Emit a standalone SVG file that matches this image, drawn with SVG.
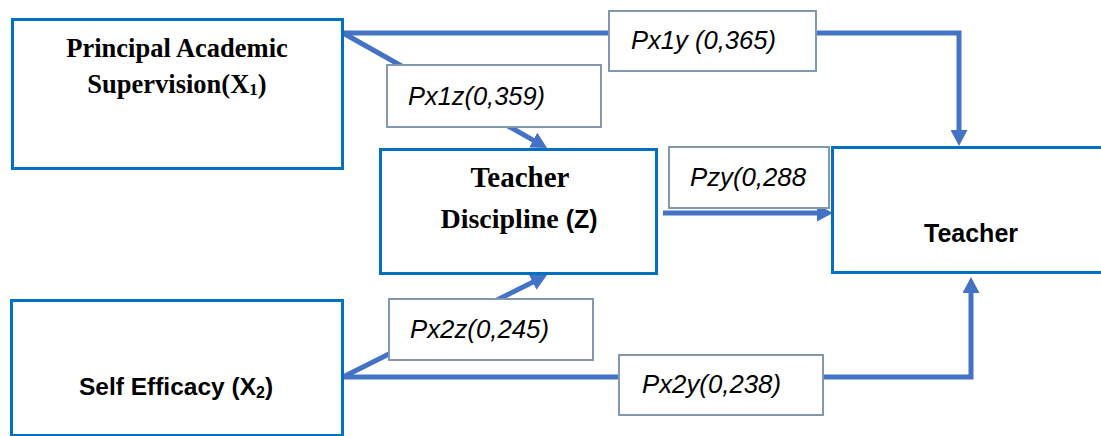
<svg xmlns="http://www.w3.org/2000/svg" width="1101" height="436" viewBox="0 0 1101 436">
  <style>
    .node { fill: #ffffff; stroke: #0070C0; stroke-width: 3; }
    .lbl { fill: #ffffff; stroke: #8497B0; stroke-width: 2; }
    .conn { fill: none; stroke: #4472C4; stroke-width: 5; }
    .serif { font-family: "Liberation Serif", "Times New Roman", serif; font-weight: bold; fill: #000; }
    .sans { font-family: "Liberation Sans", Arial, sans-serif; font-weight: bold; fill: #000; }
    .it { font-family: "Liberation Sans", Arial, sans-serif; font-style: italic; font-size: 26px; fill: #000; }
  </style>
  <defs>
    <marker id="arr" viewBox="0 0 16 17" refX="1" refY="8.5" markerWidth="16" markerHeight="17" markerUnits="userSpaceOnUse" orient="auto">
      <path d="M0,0 L16,8.5 L0,17 z" fill="#4472C4"/>
    </marker>
  </defs>
  <rect width="1101" height="436" fill="#ffffff"/>

  <g id="connectors">
    <polyline class="conn" points="343,33 959,33 959,131" marker-end="url(#arr)"/>
    <line class="conn" x1="343" y1="33" x2="534" y2="140.6" marker-end="url(#arr)"/>
    <line class="conn" x1="663" y1="213" x2="818" y2="213" marker-end="url(#arr)"/>
    <line class="conn" x1="343" y1="377" x2="533.6" y2="281.7" marker-end="url(#arr)"/>
    <polyline class="conn" points="343,377 971,377 971,292" marker-end="url(#arr)"/>
  </g>

  <g id="label-px1y">
    <rect class="lbl" x="609" y="11" width="207" height="60"/>
    <text class="it" x="631" y="49" textLength="145" lengthAdjust="spacingAndGlyphs">Px1y (0,365)</text>
  </g>
  <g id="label-px1z">
    <rect class="lbl" x="387" y="65" width="214" height="62"/>
    <text class="it" x="408" y="105" textLength="137" lengthAdjust="spacingAndGlyphs">Px1z(0,359)</text>
  </g>
  <g id="label-pzy">
    <rect class="lbl" x="669" y="147" width="160" height="61"/>
    <text class="it" x="690" y="186" textLength="116" lengthAdjust="spacingAndGlyphs">Pzy(0,288</text>
  </g>
  <g id="label-px2z">
    <rect class="lbl" x="389" y="299" width="204" height="61"/>
    <text class="it" x="410" y="338" textLength="139" lengthAdjust="spacingAndGlyphs">Px2z(0,245)</text>
  </g>
  <g id="label-px2y">
    <rect class="lbl" x="619" y="355" width="204" height="60"/>
    <text class="it" x="642" y="393" textLength="139" lengthAdjust="spacingAndGlyphs">Px2y(0,238)</text>
  </g>

  <g id="node-x1">
    <rect class="node" x="12.5" y="19.5" width="330" height="149"/>
    <text class="serif" font-size="26.5" x="177" y="57" text-anchor="middle">Principal Academic</text>
    <text class="serif" font-size="26.5" x="177" y="93" text-anchor="middle">Supervision(X<tspan font-size="17" dy="2">1</tspan><tspan dy="-2">)</tspan></text>
  </g>

  <g id="node-z">
    <rect class="node" x="380.5" y="149.5" width="276" height="124"/>
    <text class="serif" font-size="29" x="520" y="187" text-anchor="middle">Teacher</text>
    <text class="serif" font-size="28" x="519" y="228" text-anchor="middle">Discipline <tspan class="sans" font-size="25">(Z)</tspan></text>
  </g>

  <g id="node-y">
    <rect class="node" x="832.5" y="147.5" width="272" height="125"/>
    <text class="sans" font-size="25" x="971" y="242" text-anchor="middle">Teacher</text>
  </g>

  <g id="node-x2">
    <rect class="node" x="11.5" y="300.5" width="331" height="135"/>
    <text class="sans" font-size="24.5" x="176" y="395" text-anchor="middle">Self Efficacy (X<tspan font-size="16" dy="3">2</tspan><tspan dy="-3">)</tspan></text>
  </g>
</svg>
